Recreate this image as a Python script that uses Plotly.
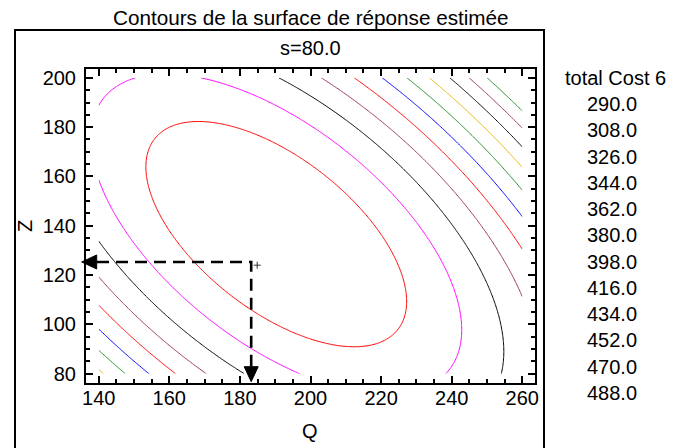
import numpy as np
import plotly.graph_objects as go

# ---- data -------------------------------------------------------------
# estimated second-order response surface: total Cost 6 as function of Q and Z (s = 80.0)
Q_center = 190.3
Z_center = 136.6
cost_min = 272.4
coef_QQ = 0.02005
coef_ZZ = 0.0131
coef_QZ = 0.00968          # half of the cross-product coefficient

Q_limits = [140, 260]
Z_limits = [80, 200]

levels = [290.0, 308.0, 326.0, 344.0, 362.0, 380.0, 398.0, 416.0, 434.0, 452.0, 470.0, 488.0]
level_colors = ["#FF0000", "#FF00FF", "#000000", "#993366", "#FF0000", "#0000FF",
                "#228B22", "#E8B400", "#000000", "#993366", "#228B22", None]

Q_opt = 183.2
Z_opt = 125.3
Q_mark = 184.9
Z_mark = 124.0

x_ticks = [140, 160, 180, 200, 220, 240, 260]
y_ticks = [80, 100, 120, 140, 160, 180, 200]
x_range = [136.4, 263.6]
y_range = [76.2, 203.6]

title_text = "Contours de la surface de réponse estimée"
subtitle_text = "s=80.0"
legend_title = "total Cost 6"

# ---- surface ----------------------------------------------------------
Qg = np.linspace(Q_limits[0], Q_limits[1], 241)
Zg = np.linspace(Z_limits[0], Z_limits[1], 241)
QQ, ZZ = np.meshgrid(Qg, Zg)
dQ = QQ - Q_center
dZ = ZZ - Z_center
cost = cost_min + coef_QQ * dQ**2 + 2 * coef_QZ * dQ * dZ + coef_ZZ * dZ**2

FONT = "Liberation Sans, Arial, sans-serif"
fig = go.Figure()

for lev, col in zip(levels, level_colors):
    if col is None:
        continue
    fig.add_trace(go.Contour(
        x=Qg, y=Zg, z=cost,
        contours=dict(start=lev, end=lev, size=18, coloring="none"),
        line=dict(color=col, width=1),
        showscale=False, hoverinfo="skip", autocontour=False,
    ))

# small marker
fig.add_trace(go.Scatter(x=[Q_mark], y=[Z_mark], mode="markers",
                         marker=dict(symbol="cross-thin", size=5,
                                     line=dict(color="#333333", width=1)),
                         hoverinfo="skip", showlegend=False))

# plot geometry (pixels)
W, H = 684, 448
ml, mr, mt, mb = 86, 149, 69, 65
pw = W - ml - mr
ph = H - mt - mb

def xp(q):
    return (q - x_range[0]) / (x_range[1] - x_range[0])

def yp(z):
    return (z - y_range[0]) / (y_range[1] - y_range[0])

dx1 = 1.0 / pw
dy1 = 1.0 / ph

# dashed guide lines
hx_base = 0 + 11 * dx1
vy_base = 0 + 16 * dy1
fig.add_shape(type="path", xref="paper", yref="paper",
              path=f"M {hx_base},{yp(Z_opt)} L {xp(Q_opt)},{yp(Z_opt)} L {xp(Q_opt)},{vy_base}",
              line=dict(color="black", width=2.6, dash="12px,7px"))
# arrow heads
tipx = -4.3 * dx1
fig.add_shape(type="path", xref="paper", yref="paper",
              path=(f"M {tipx},{yp(Z_opt)} L {tipx + 15*dx1},{yp(Z_opt) + 7*dy1} "
                    f"L {tipx + 15*dx1},{yp(Z_opt) - 7*dy1} Z"),
              fillcolor="black", line=dict(color="black", width=1))
tipy = 1.3 * dy1
fig.add_shape(type="path", xref="paper", yref="paper",
              path=(f"M {xp(Q_opt)},{tipy} L {xp(Q_opt) - 7*dx1},{tipy + 15*dy1} "
                    f"L {xp(Q_opt) + 7*dx1},{tipy + 15*dy1} Z"),
              fillcolor="black", line=dict(color="black", width=1))

# outer frame
fig.add_shape(type="rect", xref="paper", yref="paper",
              x0=(15 - ml) * dx1, x1=(544 - ml) * dx1,
              y0=-(H + 20 - (H - mb)) * dy1, y1=(H - mb - 30) * dy1,
              line=dict(color="black", width=2), fillcolor="rgba(0,0,0,0)")

annotations = []
annotations.append(dict(text=title_text, x=(311 - ml) * dx1, y=(H - mb - 18) * dy1,
                        xref="paper", yref="paper", showarrow=False,
                        xanchor="center", yanchor="middle", font=dict(size=20.7)))
annotations.append(dict(text=subtitle_text, x=(310 - ml) * dx1, y=(H - mb - 48) * dy1,
                        xref="paper", yref="paper", showarrow=False,
                        xanchor="center", yanchor="middle", font=dict(size=20)))
annotations.append(dict(text="Q", x=(310 - ml) * dx1, y=(H - mb - 431) * dy1,
                        xref="paper", yref="paper", showarrow=False,
                        xanchor="center", yanchor="middle", font=dict(size=20)))
annotations.append(dict(text="Z", x=(25 - ml) * dx1, y=(H - mb - 226) * dy1,
                        xref="paper", yref="paper", showarrow=False, textangle=-90,
                        xanchor="center", yanchor="middle", font=dict(size=20)))
annotations.append(dict(text=legend_title, x=(615 - ml) * dx1, y=(H - mb - 78) * dy1,
                        xref="paper", yref="paper", showarrow=False,
                        xanchor="center", yanchor="middle", font=dict(size=20)))
for i, lev in enumerate(levels):
    py = 104 + i * 26.27
    annotations.append(dict(text=f"{lev:.1f}", x=(612 - ml) * dx1, y=(H - mb - py) * dy1,
                            xref="paper", yref="paper", showarrow=False,
                            xanchor="center", yanchor="middle", font=dict(size=20)))

axis_common = dict(showgrid=False, zeroline=False, showline=True, linecolor="black",
                   linewidth=2, mirror="allticks", ticks="inside", ticklen=7,
                   tickwidth=1.5, tickcolor="black",
                   tickfont=dict(size=20, color="black", family=FONT))

fig.update_layout(
    width=W, height=H,
    margin=dict(l=ml, r=mr, t=mt, b=mb),
    paper_bgcolor="white", plot_bgcolor="white",
    font=dict(family=FONT, color="black", size=20),
    showlegend=False,
    xaxis=dict(range=x_range, tickvals=x_ticks, ticklabelstandoff=-4,
               minor=dict(dtick=5, tick0=140, ticks="inside", ticklen=4, tickcolor="black", tickwidth=1.5),
               **axis_common),
    yaxis=dict(range=y_range, tickvals=y_ticks, ticklabelstandoff=4,
               minor=dict(dtick=5, tick0=80, ticks="inside", ticklen=4, tickcolor="black", tickwidth=1.5),
               **axis_common),
    annotations=annotations,
)

fig.write_html("out.html")
